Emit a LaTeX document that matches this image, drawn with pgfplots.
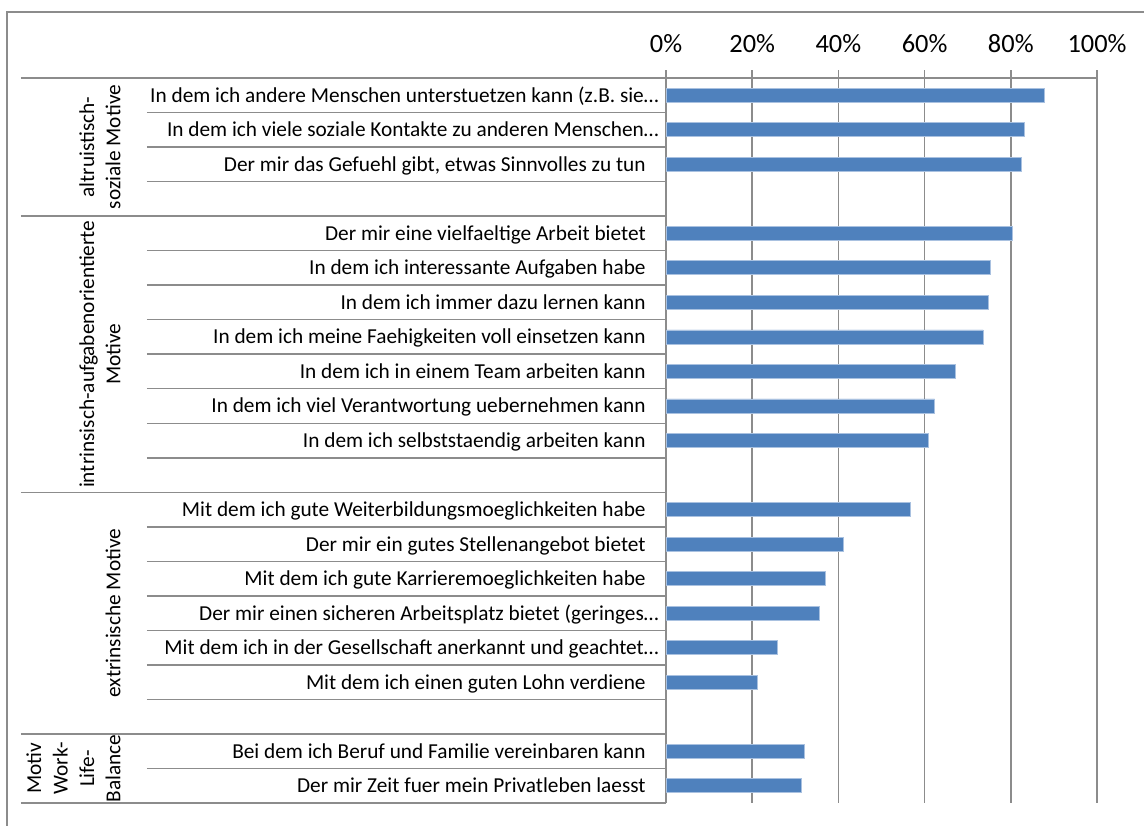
\documentclass[border=0pt]{standalone}
\usepackage{fontspec}
\setmainfont{Carlito}
\usepackage{pgfplots}
\pgfplotsset{compat=1.18}
\definecolor{barblue}{HTML}{4F81BD}
\definecolor{baredge}{HTML}{A9C1E0}
\definecolor{gridgray}{HTML}{8C8C8C}
\newcommand{\ellk}{\hspace*{-6.5pt}}
\begin{document}
\begin{tikzpicture}
\useasboundingbox (0,0) rectangle (572pt,-412.5pt);
\draw[gridgray, line width=0.75pt] (3.6pt,-500pt) -- (3.6pt,-6.1pt) -- (620pt,-6.1pt);
\begin{axis}[
  at={(333pt,-39pt)}, anchor=north west,
  scale only axis, width=215.5pt, height=362.5pt,
  xbar, bar width=7pt,
  xmin=0, xmax=100, ymin=-0.5, ymax=20.5, y dir=reverse,
  axis x line*=top, axis y line*=left,
  x axis line style={-}, y axis line style={-},
  axis line style={gridgray, line width=0.75pt},
  xtick={0,20,40,60,80,100},
  xticklabels={0\%,20\%,40\%,60\%,80\%,100\%},
  ytick={0,...,20},
  yticklabels={
    {In dem ich andere Menschen unterstuetzen kann (z.B. sie…\ellk},
    {In dem ich viele soziale Kontakte zu anderen Menschen…\ellk},
    {Der mir das Gefuehl gibt, etwas Sinnvolles zu tun},
    {},
    {Der mir eine vielfaeltige Arbeit bietet},
    {In dem ich interessante Aufgaben habe},
    {In dem ich immer dazu lernen kann},
    {In dem ich meine Faehigkeiten voll einsetzen kann},
    {In dem ich in einem Team arbeiten kann},
    {In dem ich viel Verantwortung uebernehmen kann},
    {In dem ich selbststaendig arbeiten kann},
    {},
    {Mit dem ich gute Weiterbildungsmoeglichkeiten habe},
    {Der mir ein gutes Stellenangebot bietet},
    {Mit dem ich gute Karrieremoeglichkeiten habe},
    {Der mir einen sicheren Arbeitsplatz bietet (geringes…\ellk},
    {Mit dem ich in der Gesellschaft anerkannt und geachtet…\ellk},
    {Mit dem ich einen guten Lohn verdiene},
    {},
    {Bei dem ich Beruf und Familie vereinbaren kann},
    {Der mir Zeit fuer mein Privatleben laesst}
  },
  xmajorgrids, major grid style={gridgray, line width=0.75pt},
  tick align=outside, major tick length=4pt,
  xtick style={gridgray, line width=0.75pt},
  ytick style={draw=none},
  xticklabel style={font=\fontsize{13.2}{15}\selectfont, anchor=base, inner sep=0pt, yshift=8.6pt},
  yticklabel style={font=\fontsize{10.65}{12}\selectfont, anchor=base east, inner sep=0pt, xshift=-6pt, yshift=-3.5pt},
  clip=false,
]
\addplot[fill=barblue, draw=baredge, line width=0.4pt] coordinates {
  (87.9,0) (83.1,1) (82.4,2)
  (80.3,4) (75.2,5) (74.8,6) (73.6,7) (67.1,8) (62.3,9) (60.9,10)
  (56.7,12) (41.1,13) (37.0,14) (35.7,15) (25.8,16) (21.3,17)
  (32.2,19) (31.5,20)
};
\pgfplotsinvokeforeach{0.5,1.5,2.5,4.5,5.5,6.5,7.5,8.5,9.5,10.5,12.5,13.5,14.5,15.5,16.5,17.5,19.5}{
  \draw[gridgray, line width=0.75pt] ([xshift=-259.5pt]axis cs:0,#1) -- (axis cs:0,#1);
}
\pgfplotsinvokeforeach{-0.5,3.5,11.5,18.5,20.5}{
  \draw[gridgray, line width=0.75pt] ([xshift=-322.5pt]axis cs:0,#1) -- (axis cs:0,#1);
}
\begin{scope}[every node/.style={rotate=90, anchor=south, align=center, inner sep=0pt, font=\fontsize{10.65}{13.2}\selectfont}]
\node at ([xshift=-272.5pt]axis cs:0,1.5) {altruistisch-\\soziale Motive};
\node at ([xshift=-272.5pt]axis cs:0,7.5) {intrinsisch-aufgabenorientierte\\Motive};
\node at ([xshift=-272.5pt]axis cs:0,15) {extrinsische Motive};
\node at ([xshift=-272.5pt]axis cs:0,19.5) {Motiv\\Work-\\Life-\\Balance};
\end{scope}
\end{axis}
\end{tikzpicture}
\end{document}
